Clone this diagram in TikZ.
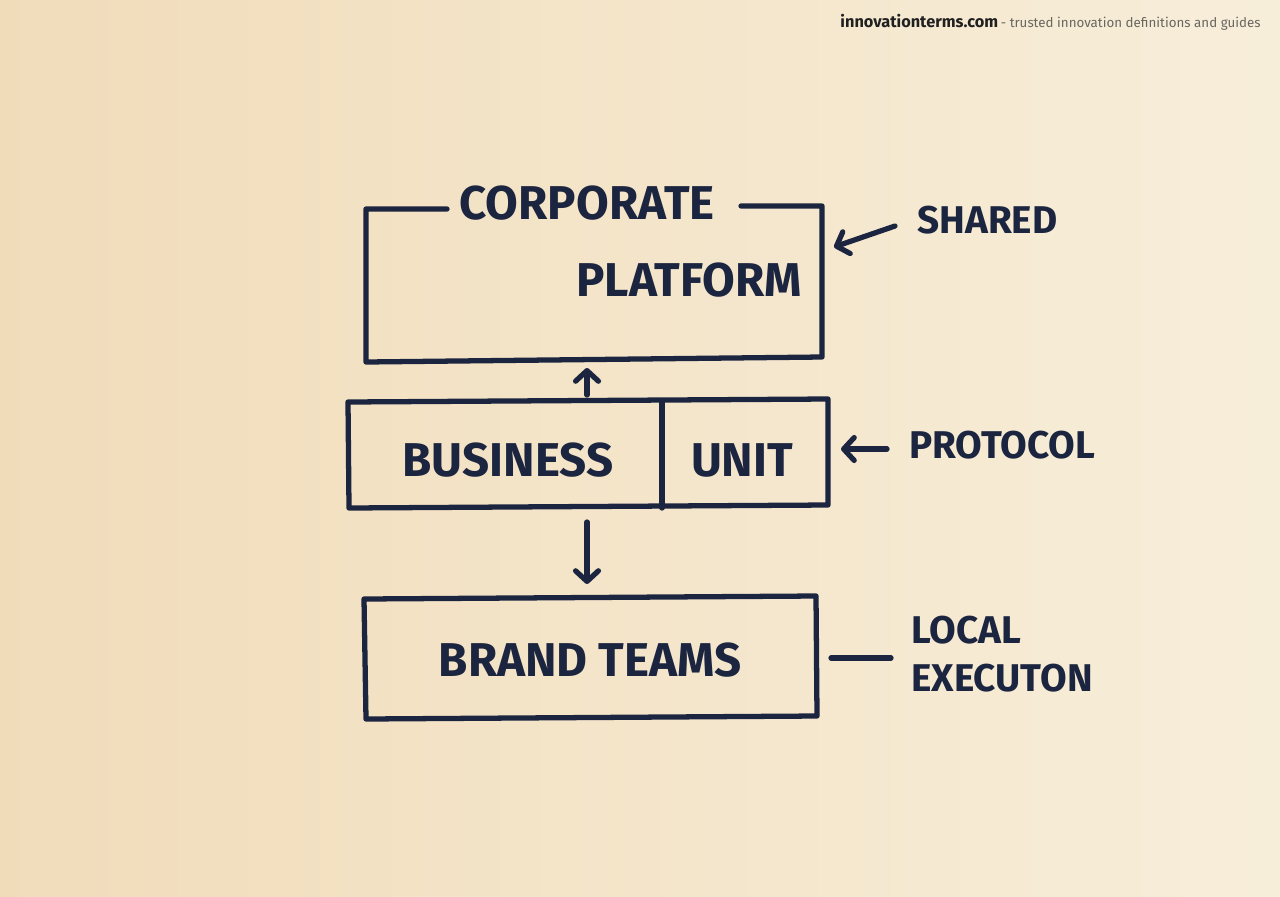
\documentclass[tikz,border=0pt]{standalone}
\usepackage{fontspec}
\setmainfont{Fira Sans}
\usetikzlibrary{arrows.meta}
\definecolor{ink}{HTML}{1C2540}
\definecolor{paperL}{HTML}{F1DCBA}
\definecolor{paperR}{HTML}{F7EEDA}
\definecolor{greytext}{HTML}{6A6660}
\tikzset{
  ink/.style={draw=ink, line width=3pt, line cap=round, line join=round},
  arr/.style={ink, -{Straight Barb[length=6pt,width=13pt,line cap=round,line join=round]}},
  big/.style={text=ink, font=\bfseries\fontsize{27}{30}\selectfont, inner sep=0pt, anchor=center},
  side/.style={text=ink, font=\bfseries\fontsize{22}{28}\selectfont, inner sep=0pt},
}
\begin{document}
\begin{tikzpicture}[x=0.02cm,y=-0.02cm]
\useasboundingbox (0,0) rectangle (1280,896);
\shade[left color=paperL, right color=paperR] (0,0) rectangle (1280,896);

% header
\node[anchor=base east, inner sep=0pt, font=\fontsize{9.3}{11}\selectfont] (hdr) at (1261,27)
  {\textbf{\color[HTML]{202020}innovationterms.com}\,{\color{greytext}\fontsize{7.6}{10}\selectfont - trusted innovation definitions and guides}};

% corporate platform box
\coordinate (cpTL) at (366,209);
\coordinate (cpTR) at (822,206);
\coordinate (cpBL) at (366,362);
\coordinate (cpBR) at (822,357);
\draw[ink] (447,209) -- (cpTL) -- (cpBL) -- (cpBR) -- (cpTR) -- (741,206);
\node[big] (corp) at (587,203) {CORPORATE};
\node[big] (plat) at (689,280) {PLATFORM};

% business unit box
\coordinate (buTL) at (348,402);
\coordinate (buTR) at (828,399);
\coordinate (buBL) at (349,508);
\coordinate (buBR) at (828,505);
\draw[ink] (buTL) -- (buTR) -- (buBR) -- (buBL) -- cycle;
\coordinate (divT) at (662,401);
\coordinate (divB) at (662,508);
\draw[ink] (divT) -- (divB);
\node[big] (bus) at (508,460) {BUSINESS};
\node[big] (unit) at (742,460) {UNIT};

% brand teams box
\coordinate (btTL) at (364,599);
\coordinate (btTR) at (816,596);
\coordinate (btBL) at (366,719);
\coordinate (btBR) at (817,716);
\draw[ink] (btTL) -- (btTR) -- (btBR) -- (btBL) -- cycle;
\node[big] (brand) at (590,660) {BRAND TEAMS};

% vertical arrows
\coordinate (upS) at (587,395);
\coordinate (upE) at (587,368);
\draw[arr] (upS) -- (upE);
\coordinate (dnS) at (587,522);
\coordinate (dnE) at (587,584);
\draw[arr] (dnS) -- (dnE);

% side labels
\node[side, anchor=west] (shared) at (917,220) {SHARED};
\node[side, anchor=west] (proto) at (909,445) {PROTOCOL};
\node[side, anchor=west, align=left, font=\bfseries\fontsize{22}{27.5}\selectfont] (local) at (911,654) {LOCAL\\EXECUTON};

\coordinate (shA) at (895,226);
\coordinate (shB) at (834,247);
\draw[arr] (shA) -- (shB);
\coordinate (prA) at (887,449);
\coordinate (prB) at (841,449);
\draw[arr] (prA) -- (prB);
\coordinate (loA) at (891,658);
\coordinate (loB) at (831,658);
\draw[ink] (loA) -- (loB);
\end{tikzpicture}
\end{document}
